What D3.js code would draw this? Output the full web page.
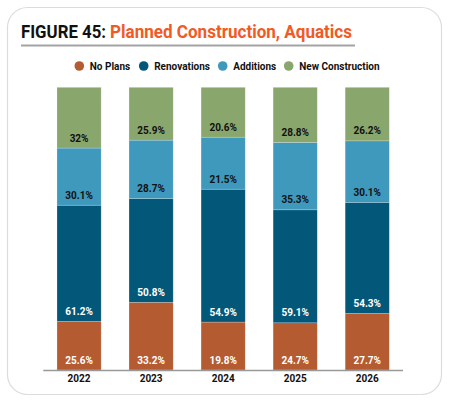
<!DOCTYPE html>
<html>
<head>
<meta charset="utf-8">
<script src="https://cdn.jsdelivr.net/npm/d3@7"></script>
<style>
  body { margin: 0; background: #fff; }
  text { font-family: Roboto, "Noto Sans", Arial, sans-serif; }
</style>
</head>
<body>
<script>
'use strict';

// chart data
const years = ["2022", "2023", "2024", "2025", "2026"];
const seriesNames = ["No Plans", "Renovations", "Additions", "New Construction"];
const noPlans = [25.6, 33.2, 19.8, 24.7, 27.7];
const renovations = [61.2, 50.8, 54.9, 59.1, 54.3];
const additions = [30.1, 28.7, 21.5, 35.3, 30.1];
const newConstruction = [32, 25.9, 20.6, 28.8, 26.2];
const valueLabels = [
  ["25.6%", "33.2%", "19.8%", "24.7%", "27.7%"],
  ["61.2%", "50.8%", "54.9%", "59.1%", "54.3%"],
  ["30.1%", "28.7%", "21.5%", "35.3%", "30.1%"],
  ["32%", "25.9%", "20.6%", "28.8%", "26.2%"]
];

const colors = ["#b55b31", "#03587a", "#3f99bc", "#89a66d"];
const labelColors = ["#fff", "#fff", "#111", "#111"];

const width = 450, height = 401;

const svg = d3.select("body").append("svg")
  .attr("width", width)
  .attr("height", height);

// card frame
svg.append("rect")
  .attr("x", 7.5).attr("y", 7.5)
  .attr("width", 434).attr("height", 387)
  .attr("rx", 20)
  .style("fill", "#fff")
  .style("stroke", "#dcdcdc")
  .style("stroke-width", 1.2);

// title (condensed look via textLength)
svg.append("text")
  .attr("x", 21).attr("y", 37.5)
  .attr("textLength", 85).attr("lengthAdjust", "spacingAndGlyphs")
  .style("font-size", "19px").style("font-weight", "bold")
  .style("fill", "#111")
  .text("FIGURE 45:");

svg.append("text")
  .attr("x", 110).attr("y", 37.5)
  .attr("textLength", 242).attr("lengthAdjust", "spacingAndGlyphs")
  .style("font-size", "19px").style("font-weight", "bold")
  .style("fill", "#f15a24")
  .text("Planned Construction, Aquatics");

// rule under title
svg.append("rect")
  .attr("x", 21).attr("y", 44.5)
  .attr("width", 334).attr("height", 2)
  .style("fill", "#a3a3a3");

// legend
const legendX = [79.3, 143.7, 222.7, 288.7];
const legend = svg.append("g").attr("class", "legend");
seriesNames.forEach((name, i) => {
  legend.append("circle")
    .attr("cx", legendX[i]).attr("cy", 66)
    .attr("r", 4.8)
    .style("fill", colors[i]);
  legend.append("text")
    .attr("x", legendX[i] + 10.5).attr("y", 66)
    .attr("dy", "0.35em")
    .style("font-size", "10px").style("font-weight", "bold")
    .style("fill", "#111")
    .text(name);
});

// scales
const x = d3.scaleBand()
  .domain(years)
  .range([43.3, 403])
  .paddingInner(0.387)
  .paddingOuter(0.19);

const y = d3.scaleLinear()
  .domain([0, 1])
  .range([370, 87.3]);

// normalized stack
const rows = years.map((yr, i) => ({
  year: yr,
  "No Plans": noPlans[i],
  "Renovations": renovations[i],
  "Additions": additions[i],
  "New Construction": newConstruction[i]
}));

const stack = d3.stack()
  .keys(seriesNames)
  .offset(d3.stackOffsetExpand);

const layers = stack(rows);

const layer = svg.selectAll(".layer")
  .data(layers)
  .enter().append("g")
  .attr("class", "layer");

layer.selectAll("rect")
  .data((d) => d)
  .enter().append("rect")
  .attr("x", (d) => x(d.data.year))
  .attr("y", (d) => y(d[1]))
  .attr("width", x.bandwidth())
  .attr("height", (d) => y(d[0]) - y(d[1]))
  .style("fill", function() { return colors[d3.select(this.parentNode).datum().index]; })
  .style("stroke", "rgba(255,255,255,0.35)")
  .style("stroke-width", 0.6);

// value labels near segment base
layer.selectAll("text")
  .data((d) => d.map((p, j) => ({p: p, j: j, k: d.index})))
  .enter().append("text")
  .attr("x", (d) => x(d.p.data.year) + x.bandwidth() / 2)
  .attr("y", (d) => y(d.p[0]) - 10)
  .attr("dy", "0.35em")
  .style("text-anchor", "middle")
  .style("font-size", "10px").style("font-weight", "bold")
  .style("fill", (d) => labelColors[d.k])
  .text((d) => valueLabels[d.k][d.j]);

// x axis
const xAxis = d3.axisBottom(x).tickSize(0).tickPadding(5);
const axisG = svg.append("g")
  .attr("transform", "translate(0,370)")
  .call(xAxis);
axisG.select(".domain")
  .attr("d", "M43.3,0.5H403")
  .style("stroke", "#999")
  .style("stroke-width", 1.5);
axisG.selectAll("text")
  .style("font-family", "Roboto, sans-serif")
  .style("font-size", "10px")
  .style("font-weight", "bold")
  .style("fill", "#111");
</script>
</body>
</html>
